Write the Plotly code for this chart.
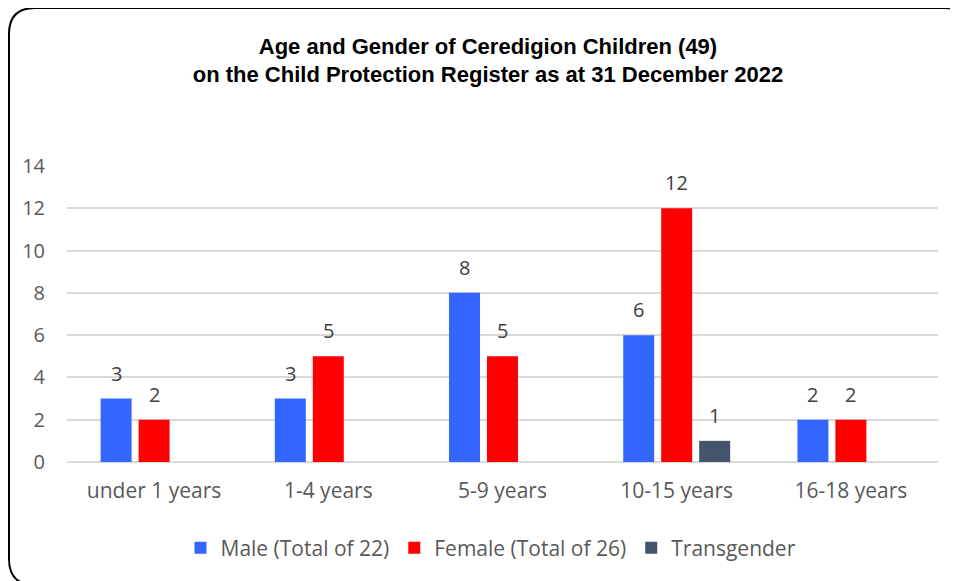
import plotly.graph_objects as go

categories = ["under 1 years", "1-4 years", "5-9 years", "10-15 years", "16-18 years"]
male = [3, 3, 8, 6, 2]
female = [2, 5, 5, 12, 2]
transgender = [None, None, None, 1, None]
series_names = ["Male (Total of 22)", "Female (Total of 26)", "Transgender"]
y_ticks = [0, 2, 4, 6, 8, 10, 12, 14]

colors = ["#3366FF", "#FF0000", "#44546A"]

OFF = 8  # page body margin
W, H = 958 - OFF, 581 - OFF
# plot area in window pixels
L, R, T, B = 67 - OFF, 938 - OFF, 166 - OFF, 462 - OFF

fig = go.Figure()
for name, vals, col in zip(series_names, [male, female, transgender], colors):
    fig.add_trace(go.Bar(x=categories, y=vals, name=name, marker_color=col,
                         marker_line_width=0))

# data labels
shifts = [-38, 0, 38]
for vals, sh in zip([male, female, transgender], shifts):
    for c, v in zip(categories, vals):
        if v is None:
            continue
        fig.add_annotation(x=c, y=v, text=str(v), showarrow=False, xshift=sh,
                           yanchor="bottom", yshift=10,
                           font=dict(family="Open Sans", size=20, color="#404040"))

def px(xw):
    return (xw - OFF - L) / (R - L)

def py(yw):
    return (B - (yw - OFF)) / (B - T)

# rounded border (window pixel coordinates)
x0, y0, x1, y1, r = 9, 8, 971, 585, 26
path = (f"M {px(x0+r)},{py(y0)} L {px(x1-r)},{py(y0)} "
        f"Q {px(x1)},{py(y0)} {px(x1)},{py(y0+r)} "
        f"L {px(x1)},{py(y1-r)} Q {px(x1)},{py(y1)} {px(x1-r)},{py(y1)} "
        f"L {px(x0+r)},{py(y1)} Q {px(x0)},{py(y1)} {px(x0)},{py(y1-r)} "
        f"L {px(x0)},{py(y0+r)} Q {px(x0)},{py(y0)} {px(x0+r)},{py(y0)} Z")
fig.add_shape(type="path", path=path, xref="paper", yref="paper",
              line=dict(color="#000000", width=2), layer="above")

fig.update_layout(
    width=W, height=H,
    margin=dict(l=L, r=W - R, t=T, b=H - B),
    paper_bgcolor="white", plot_bgcolor="white",
    barmode="group", bargap=0.346, bargroupgap=0.184,
    title=dict(text="Age and Gender of Ceredigion Children (49)<br>on the Child Protection Register as at 31 December 2022",
               x=(488 - OFF) / W, xanchor="center", y=1 - (53.5 - OFF) / H, yanchor="middle",
               font=dict(family="Liberation Sans", size=22, color="#000000", weight="bold")),
    showlegend=True,
    legend=dict(orientation="h", x=px(491), xanchor="center", y=py(548), yanchor="middle",
                font=dict(family="Open Sans", size=21, color="#595959"),
                itemwidth=30, tracegroupgap=0),
    font=dict(family="Open Sans"),
)
fig.update_xaxes(showgrid=False, showline=False, ticks="",
                 tickfont=dict(family="Open Sans", size=21, color="#595959"),
                 ticklabelstandoff=14)
fig.update_yaxes(range=[0, 14], tickvals=y_ticks, showgrid=True, gridcolor="#D9D9D9", gridwidth=1.5,
                 zeroline=True, zerolinecolor="#D9D9D9", zerolinewidth=1.5, showline=False,
                 tickfont=dict(family="Open Sans", size=20, color="#595959"),
                 ticklabelstandoff=21)

fig.write_html("out.html")
